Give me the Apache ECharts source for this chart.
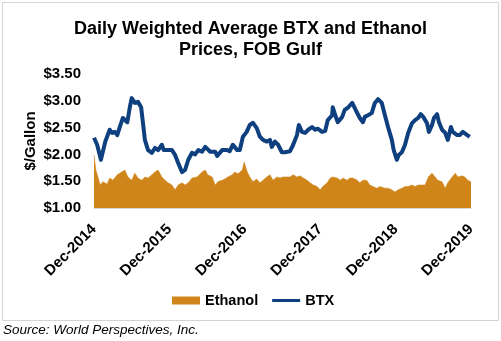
<!DOCTYPE html>
<html>
<head>
<meta charset="utf-8">
<script src="https://cdn.jsdelivr.net/npm/echarts@6/dist/echarts.min.js"></script>
<style>
  html, body { margin: 0; padding: 0; background: #fff; }
  #chart { width: 501px; height: 341px; }
</style>
</head>
<body>
<div id="chart"></div>
<script>
// Months elapsed since Dec-2014 and price in $/gallon
const btxMonths = [0,0.5,1.1,1.8,2.5,2.9,3.3,3.7,4.1,4.6,5.3,5.7,6.0,6.5,7.0,7.5,7.8,8.1,8.6,9.2,9.7,10.2,10.8,11.1,11.6,12.4,12.9,13.4,14.0,14.5,15.0,15.6,16.1,16.6,17.2,17.7,18.5,19.3,19.6,20.4,21.2,21.6,22.1,22.8,23.2,23.7,24.3,24.8,25.3,25.9,26.4,26.9,27.5,28.0,28.3,28.8,29.3,29.9,30.4,30.7,31.2,31.7,32.3,32.6,33.1,33.6,34.1,34.7,35.2,35.6,36.3,36.8,37.2,37.9,38.0,38.4,38.8,39.5,39.9,40.4,41.1,41.4,41.9,42.3,42.8,43.1,43.6,44.2,44.7,45.2,45.8,46.3,46.8,47.4,47.7,48.2,48.5,49.0,49.5,50.0,50.6,51.1,51.6,52.0,52.4,53.0,53.3,53.8,54.1,54.6,54.9,55.4,55.9,56.3,56.8,57.1,57.8,58.2,58.7,59.4,59.8];
const btxPrices = [2.31,2.18,1.90,2.24,2.46,2.40,2.42,2.36,2.51,2.68,2.60,2.88,3.05,2.96,2.98,2.88,2.58,2.27,2.08,2.03,2.12,2.08,2.18,2.08,2.08,2.08,1.99,1.84,1.67,1.71,1.90,2.03,2.00,2.08,2.05,2.14,2.05,2.05,1.97,2.08,2.08,2.06,2.18,2.08,2.08,2.33,2.42,2.55,2.59,2.49,2.33,2.27,2.24,2.27,2.14,2.24,2.18,2.04,2.04,2.03,2.06,2.18,2.36,2.55,2.42,2.40,2.46,2.51,2.46,2.48,2.42,2.44,2.64,2.73,2.88,2.73,2.60,2.70,2.83,2.87,2.96,2.93,2.77,2.68,2.60,2.70,2.73,2.77,2.96,3.03,2.96,2.73,2.51,2.27,2.08,1.90,1.99,2.04,2.18,2.40,2.58,2.64,2.68,2.75,2.70,2.58,2.42,2.55,2.68,2.75,2.60,2.46,2.40,2.27,2.51,2.42,2.36,2.36,2.42,2.36,2.33];

const ethanolMonths = [0,0.2,0.3,1.0,1.4,2.1,2.5,3.0,3.7,4.1,4.9,5.4,6.0,6.5,7.0,7.6,8.1,8.6,9.2,9.7,10.2,10.8,11.3,11.8,12.4,12.9,13.4,14.0,14.5,15.0,15.6,16.4,17.2,17.7,18.1,18.8,19.3,19.7,20.4,20.8,21.3,22.0,22.4,22.9,23.6,23.9,24.4,24.8,25.3,25.9,26.4,26.9,27.5,28.0,28.5,29.1,29.6,30.1,30.4,31.2,31.7,32.3,32.8,33.3,33.9,34.4,34.9,35.5,36.0,36.4,37.1,37.6,38.0,38.7,39.2,39.6,40.3,40.7,41.2,41.9,42.3,42.8,43.4,43.9,44.4,45.0,45.5,45.8,46.3,46.8,47.4,47.9,48.4,49.0,49.5,50.0,50.6,51.1,51.6,52.2,52.7,53.2,53.8,54.3,54.7,55.4,55.9,56.3,57.0,57.5,57.9,58.6,59.0,59.5,60.0];
const ethanolPrices = [1.99,1.80,1.71,1.43,1.49,1.45,1.56,1.52,1.62,1.65,1.71,1.58,1.52,1.65,1.56,1.52,1.58,1.56,1.62,1.67,1.71,1.58,1.52,1.47,1.43,1.34,1.43,1.47,1.43,1.47,1.56,1.58,1.67,1.71,1.62,1.58,1.43,1.49,1.52,1.54,1.58,1.62,1.67,1.64,1.71,1.86,1.67,1.58,1.49,1.54,1.47,1.52,1.58,1.62,1.52,1.58,1.56,1.58,1.56,1.58,1.62,1.58,1.60,1.56,1.52,1.47,1.43,1.40,1.34,1.40,1.47,1.56,1.58,1.56,1.52,1.56,1.52,1.56,1.56,1.52,1.47,1.52,1.52,1.43,1.40,1.37,1.40,1.37,1.37,1.37,1.34,1.30,1.34,1.37,1.40,1.40,1.43,1.40,1.43,1.43,1.43,1.58,1.65,1.58,1.52,1.49,1.37,1.47,1.58,1.65,1.58,1.60,1.58,1.52,1.49];

// Tick labels along the time axis (one per December)
const xTickLabels = ['Dec-2014','Dec-2015','Dec-2016','Dec-2017','Dec-2018','Dec-2019'];

const FONT = '"Liberation Sans", Arial, sans-serif';
const ETHANOL_COLOR = '#D0851B';
const BTX_COLOR = '#0E3F7E';

const zip = (xs, ys) => xs.map((x, i) => [x, ys[i]]);

const chart = echarts.init(document.getElementById('chart'), null, { renderer: 'canvas' });
chart.setOption({
  animation: false,
  backgroundColor: '#fff',
  title: {
    text: 'Daily Weighted Average BTX and Ethanol\nPrices, FOB Gulf',
    left: 'center',
    top: 14,
    textStyle: { fontFamily: FONT, fontSize: 18, fontWeight: 'bold', color: '#000', lineHeight: 21 }
  },
  legend: {
    left: 172,
    top: 293,
    padding: 0,
    itemWidth: 28,
    itemHeight: 8,
    itemGap: 14,
    textStyle: { fontFamily: FONT, fontSize: 14.5, fontWeight: 'bold', color: '#000' },
    data: [
      { name: 'Ethanol', icon: 'rect' },
      // thin horizontal bar inside a 28x8 box, so the line sample keeps its proportions
      { name: 'BTX', icon: 'path://M0,0H0.01V8H0Z M0,2.5H28V5.5H0Z' }
    ]
  },
  grid: { left: 94, right: 30, top: 74, bottom: 133 },
  xAxis: {
    type: 'value',
    min: 0,
    max: 60,
    interval: 12,
    axisLine: { show: true, lineStyle: { color: '#d9d9d9', width: 1 } },
    axisTick: { show: false },
    splitLine: { show: false },
    axisLabel: {
      rotate: 45,
      margin: 19,
      fontFamily: FONT,
      fontSize: 15,
      fontWeight: 'bold',
      color: '#000',
      formatter: v => xTickLabels[Math.round(v / 12)]
    }
  },
  yAxis: {
    type: 'value',
    min: 1,
    max: 3.5,
    interval: 0.5,
    name: '$/Gallon',
    nameLocation: 'middle',
    nameRotate: 90,
    nameGap: 56,
    nameMoveOverlap: false,
    nameTextStyle: { fontFamily: FONT, fontSize: 15, fontWeight: 'bold', color: '#000' },
    axisLine: { show: false },
    axisTick: { show: false },
    splitLine: { show: false },
    axisLabel: {
      margin: 13,
      fontFamily: FONT,
      fontSize: 15,
      fontWeight: 'bold',
      color: '#000',
      formatter: v => '$' + v.toFixed(2)
    }
  },
  series: [
    {
      name: 'Ethanol',
      type: 'line',
      data: zip(ethanolMonths, ethanolPrices),
      symbol: 'none',
      color: ETHANOL_COLOR,
      lineStyle: { width: 0.5, color: ETHANOL_COLOR },
      areaStyle: { color: ETHANOL_COLOR, opacity: 1, origin: 'start' },
      z: 1
    },
    {
      name: 'BTX',
      type: 'line',
      data: zip(btxMonths, btxPrices),
      symbol: 'none',
      color: BTX_COLOR,
      lineStyle: { width: 4, color: BTX_COLOR, join: 'round' },
      z: 2
    }
  ],
  graphic: [
    {
      type: 'rect',
      shape: { x: 2.5, y: 2.5, width: 496, height: 318 },
      style: { fill: 'none', stroke: '#d4d4d4', lineWidth: 1 },
      silent: true
    },
    {
      type: 'text',
      left: 3,
      top: 323,
      style: {
        text: 'Source: World Perspectives, Inc.',
        font: 'italic 13.5px "Liberation Sans", Arial, sans-serif',
        fill: '#000'
      }
    }
  ]
});
</script>
</body>
</html>
